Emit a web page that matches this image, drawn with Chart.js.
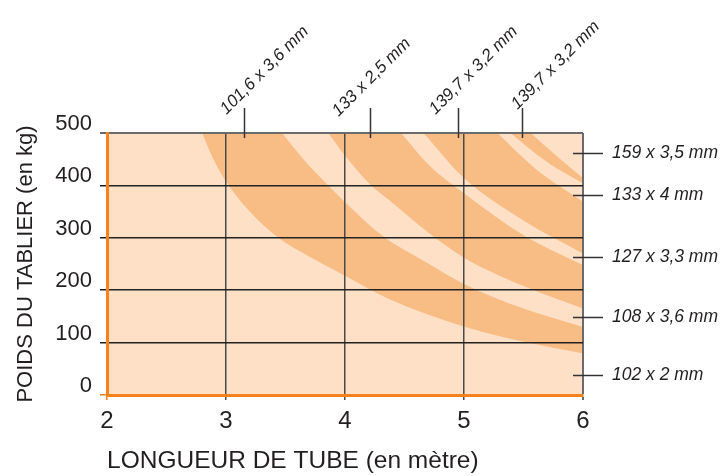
<!DOCTYPE html>
<html><head><meta charset="utf-8">
<script src="https://cdn.jsdelivr.net/npm/chart.js@4/dist/chart.umd.min.js"></script>
<style>html,body{margin:0;padding:0;background:#fff}#wrap{width:721px;height:476px}</style>
</head><body><div id="wrap"><canvas id="c" width="721" height="476"></canvas></div>
<script>
// ---- data ----
const xTicks = [2, 3, 4, 5, 6];
const yTicks = [0, 100, 200, 300, 400, 500];
const xTitle = 'LONGUEUR DE TUBE (en mètre)';
const yTitle = 'POIDS DU TABLIER (en kg)';
const topLabels = ['101,6 x 3,6 mm', '133 x 2,5 mm', '139,7 x 3,2 mm', '139,7 x 3,2 mm'];
const topLabelX = [3.15, 4.21, 4.95, 5.49];
const rightLabels = ['159 x 3,5 mm', '133 x 4 mm', '127 x 3,3 mm', '108 x 3,6 mm', '102 x 2 mm'];
const rightLabelY = [461, 382, 264, 149, 38];
// boundary curves between light and dark bands (x = length, y = weight)
const c1x = [2.80, 2.89, 3.01, 3.20, 3.43, 3.75, 4.02, 4.36, 5.01, 5.54, 6.00];
const c1y = [500, 452, 404, 350, 302, 258, 225, 184, 130, 100, 79];
const c2x = [3.47, 3.65, 3.86, 4.00, 4.32, 4.67, 5.00, 5.50, 6.00];
const c2y = [500, 450, 400, 368, 303, 255, 212, 165, 130];
const c3x = [3.86, 4.00, 4.21, 4.38, 4.70, 5.00, 5.50, 6.00];
const c3y = [500, 457, 402, 370, 310, 262, 208, 165];
const c4x = [4.47, 4.70, 5.00, 5.50, 6.00];
const c4y = [500, 440, 385, 305, 248];
const c5x = [4.66, 5.00, 5.50, 6.00];
const c5y = [500, 414, 333, 270];
const c6x = [5.28, 5.60, 6.00];
const c6y = [500, 432, 369];
const c7x = [5.39, 5.70, 6.00];
const c7y = [500, 444, 404];
const c8x = [5.56, 5.80, 6.00];
const c8y = [500, 452, 414];

// ---- styles ----
const LIGHT = '#fde0c6';
const DARK = '#f8bc85';
const ORANGE = '#f5821f';
const TEXT = '#231f20';
const FONT = '"Liberation Sans", Arial, sans-serif';

const curves = [[c1x,c1y],[c2x,c2y],[c3x,c3y],[c4x,c4y],[c5x,c5y],[c6x,c6y],[c7x,c7y],[c8x,c8y]];
const datasets = curves.map((c, i) => ({
  data: c[0].map((x, j) => ({x: x, y: c[1][j]})),
  borderColor: 'rgba(0,0,0,0)',
  borderWidth: 1,
  pointRadius: 0,
  cubicInterpolationMode: 'monotone',
  fill: 'end',
  order: curves.length - i,
  backgroundColor: i % 2 === 0 ? DARK : LIGHT
}));

const bgPlugin = {
  id: 'bg',
  beforeDatasetsDraw(chart) {
    const {ctx, chartArea: a} = chart;
    ctx.save();
    ctx.fillStyle = LIGHT;
    ctx.fillRect(a.left, a.top, a.right - a.left, a.bottom - a.top);
    ctx.restore();
  }
};

const TOP_DX = [-18, -32, -23, -5];
const TOP_DY = [-18, -16, -18, -23];
const annotPlugin = {
  id: 'annot',
  afterDraw(chart) {
    const {ctx, chartArea: a, scales} = chart;
    const sx = scales.x, sy = scales.y;
    ctx.save();
    ctx.strokeStyle = '#333';
    ctx.lineWidth = 1.5;
    ctx.fillStyle = TEXT;
    ctx.font = 'italic 17px ' + FONT;
    topLabelX.forEach((v, i) => {
      const px = Math.round(sx.getPixelForValue(v)) + 0.5;
      ctx.beginPath();
      ctx.moveTo(px, a.top + 5);
      ctx.lineTo(px, a.top - 25);
      ctx.stroke();
      ctx.save();
      ctx.translate(px + TOP_DX[i], a.top + TOP_DY[i]);
      ctx.rotate(-Math.PI / 4);
      ctx.textAlign = 'left';
      ctx.textBaseline = 'alphabetic';
      ctx.fillText(topLabels[i], 0, 0);
      ctx.restore();
    });
    ctx.font = 'italic 17.5px ' + FONT;
    ctx.textAlign = 'left';
    ctx.textBaseline = 'middle';
    rightLabelY.forEach((v, i) => {
      const py = Math.round(sy.getPixelForValue(v)) + 0.5;
      ctx.beginPath();
      ctx.moveTo(a.right - 10, py);
      ctx.lineTo(a.right + 20, py);
      ctx.stroke();
      ctx.fillText(rightLabels[i], a.right + 29, py);
    });
    ctx.restore();
  }
};

const isFirst = (c, arr) => c.tick && c.tick.value === arr[0];
const isLast = (c, arr) => c.tick && c.tick.value === arr[arr.length - 1];

new Chart(document.getElementById('c'), {
  type: 'line',
  data: {datasets: datasets},
  plugins: [bgPlugin, annotPlugin],
  options: {
    responsive: false,
    animation: false,
    devicePixelRatio: 1,
    layout: {padding: {top: 133, right: 138, left: 0, bottom: 0}},
    plugins: {legend: {display: false}, tooltip: {enabled: false}},
    scales: {
      x: {
        type: 'linear', min: xTicks[0], max: xTicks[xTicks.length - 1],
        afterFit(s) { s.height = 81; },
        afterBuildTicks(s) { s.ticks = xTicks.map(v => ({value: v})); },
        ticks: {z: 3, color: TEXT, font: {family: FONT, size: 24}, padding: 7, maxRotation: 0, autoSkip: false},
        grid: {
          z: 1, drawOnChartArea: true, tickLength: 5,
          lineWidth: c => isLast(c, xTicks) ? 2 : 1.5,
          color: c => isFirst(c, xTicks) ? ORANGE : (isLast(c, xTicks) ? '#6b6b6b' : '#4a4a4a')
        },
        border: {z: 2, color: ORANGE, width: 3},
        title: {display: true, text: xTitle, color: TEXT, align: 'start',
          font: {family: FONT, size: 24.5, lineHeight: 1.0}, padding: {top: 0, bottom: 3}}
      },
      y: {
        type: 'linear', min: yTicks[0], max: yTicks[yTicks.length - 1],
        afterFit(s) { s.width = 107; },
        afterBuildTicks(s) { s.ticks = yTicks.map(v => ({value: v})); },
        ticks: {z: 3, color: TEXT, font: {family: FONT, size: 22}, padding: 8, labelOffset: -9},
        grid: {
          z: 1, tickLength: 7,
          lineWidth: c => isLast(c, yTicks) ? 2 : 1.5,
          color: c => isFirst(c, yTicks) ? ORANGE : (isLast(c, yTicks) ? '#6b6b6b' : '#222')
        },
        border: {z: 2, color: ORANGE, width: 3},
        title: {display: true, text: yTitle, color: TEXT,
          font: {family: FONT, size: 22, lineHeight: 1.2}, padding: {top: 13, bottom: 0}}
      }
    }
  }
});
</script></body></html>
